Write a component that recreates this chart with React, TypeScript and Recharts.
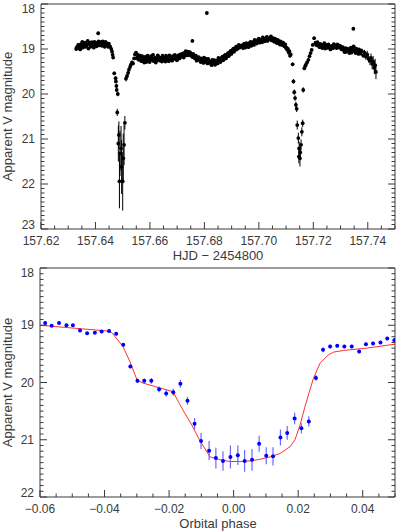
import React from 'react';
import { ComposedChart, Scatter, Line, XAxis, YAxis, ErrorBar } from 'recharts';

// ---- top panel: light curve, [HJD - 2454800, V mag] ----
const preEclipse1 = [
  [157.6329, 19.0], [157.6334, 18.98], [157.6339, 18.94], [157.6344, 19.01], [157.6349, 18.93],
  [157.6354, 18.97], [157.6359, 18.88], [157.6364, 18.95], [157.6369, 18.9], [157.6374, 18.99],
  [157.6379, 18.86], [157.6384, 18.93], [157.6389, 18.91], [157.6394, 18.97], [157.6399, 18.87],
  [157.6404, 18.94], [157.6409, 18.89], [157.6414, 18.92], [157.6419, 18.85], [157.6424, 18.93],
  [157.6429, 18.88], [157.6434, 18.95], [157.6439, 18.86], [157.6444, 18.91], [157.6449, 18.88],
  [157.6454, 18.95], [157.6458, 19.0], [157.6461, 19.06], [157.6463, 19.13], [157.6465, 19.19],
];
const preEclipse1b = [
  [157.63315, 18.96], [157.63365, 18.91], [157.63415, 18.97], [157.63465, 18.89], [157.63515, 18.84],
  [157.63565, 18.91], [157.63615, 18.86], [157.63665, 18.93], [157.63715, 18.82], [157.63765, 18.89],
  [157.63815, 18.95], [157.63865, 18.85], [157.63915, 18.9], [157.63965, 18.84], [157.64015, 18.92],
  [157.64065, 18.86], [157.64115, 18.83], [157.64165, 18.9], [157.64215, 18.87], [157.64265, 18.83],
  [157.64315, 18.9], [157.64365, 18.84], [157.64415, 18.92], [157.64465, 18.95], [157.64515, 18.93],
];

// [t, mag, err]
const eclipse1 = [
  [157.6469, 19.54, 0.04], [157.6474, 19.65, 0.04], [157.6475, 19.72, 0.04], [157.6477, 19.82, 0.05],
  [157.6478, 19.91, 0.05], [157.6482, 20.0, 0.05], [157.648, 20.41, 0.08], [157.6486, 20.91, 0.3],
  [157.6484, 21.1, 0.4], [157.649, 21.32, 0.5], [157.6494, 21.21, 0.5], [157.6496, 21.62, 0.6],
  [157.6488, 21.94, 0.6], [157.65, 21.94, 0.65], [157.6502, 21.43, 0.55], [157.6505, 21.13, 0.45],
  [157.6508, 20.64, 0.15], [157.6512, 19.66, 0.06], [157.6516, 19.6, 0.05], [157.652, 19.53, 0.05],
  [157.6523, 19.46, 0.04], [157.6527, 19.4, 0.04], [157.653, 19.35, 0.04], [157.6534, 19.3, 0.04],
  [157.6538, 19.32, 0.04], [157.6542, 19.21, 0.03], [157.6545, 19.12, 0.03],
];

const plateauMid = [
  [157.6549, 19.08], [157.6554, 19.18], [157.6559, 19.24], [157.6564, 19.15], [157.6569, 19.27],
  [157.6574, 19.2], [157.6579, 19.3], [157.6584, 19.17], [157.6589, 19.25], [157.6594, 19.21],
  [157.6599, 19.29], [157.6604, 19.16], [157.6609, 19.23], [157.6614, 19.27], [157.6619, 19.19],
  [157.6624, 19.26], [157.6629, 19.14], [157.6634, 19.24], [157.6639, 19.2], [157.6644, 19.28],
  [157.6649, 19.18], [157.6654, 19.25], [157.6659, 19.15], [157.6664, 19.22], [157.6669, 19.27],
  [157.6674, 19.19], [157.6679, 19.24], [157.6684, 19.16], [157.6689, 19.22], [157.6694, 19.18],
  [157.6699, 19.25], [157.6704, 19.14], [157.6709, 19.21], [157.6714, 19.17], [157.6719, 19.11],
  [157.6724, 19.19], [157.6729, 19.08], [157.6734, 19.14], [157.6739, 19.06], [157.6744, 19.12],
  [157.6749, 19.09], [157.6754, 19.16], [157.6759, 19.11], [157.6764, 19.2], [157.6769, 19.15],
  [157.6774, 19.23], [157.6779, 19.18], [157.6784, 19.26], [157.6789, 19.21], [157.6794, 19.28],
  [157.6799, 19.19], [157.6804, 19.25], [157.6809, 19.3], [157.6814, 19.22], [157.6819, 19.28],
  [157.6824, 19.33], [157.6829, 19.24], [157.6834, 19.31], [157.6839, 19.35], [157.6844, 19.26],
  [157.6849, 19.32], [157.6854, 19.23], [157.6859, 19.29], [157.6864, 19.19], [157.6869, 19.25],
  [157.6874, 19.15], [157.6879, 19.21], [157.6884, 19.12], [157.6889, 19.16], [157.6894, 19.07],
  [157.6899, 19.11], [157.6904, 19.02], [157.6909, 19.06], [157.6914, 18.98], [157.6919, 19.01],
  [157.6924, 18.93], [157.6929, 18.97],
];
const plateauMidB = [
  [157.65515, 19.21], [157.65565, 19.13], [157.65615, 19.19], [157.65665, 19.23], [157.65715, 19.16],
  [157.65765, 19.24], [157.65815, 19.22], [157.65865, 19.29], [157.65915, 19.15], [157.65965, 19.19],
  [157.66015, 19.25], [157.66065, 19.2], [157.66115, 19.13], [157.66165, 19.22], [157.66215, 19.3],
  [157.66265, 19.21], [157.66315, 19.18], [157.66365, 19.26], [157.66415, 19.23], [157.66465, 19.15],
  [157.66515, 19.2], [157.66565, 19.28], [157.66615, 19.19], [157.66665, 19.24], [157.66715, 19.14],
  [157.66765, 19.21], [157.66815, 19.26], [157.66865, 19.2], [157.66915, 19.13], [157.66965, 19.19],
  [157.67015, 19.23], [157.67065, 19.18], [157.67115, 19.12], [157.67165, 19.16], [157.67215, 19.1],
  [157.67265, 19.15], [157.67315, 19.05], [157.67365, 19.11], [157.67415, 19.14], [157.67465, 19.07],
  [157.67515, 19.13], [157.67565, 19.18], [157.67615, 19.14], [157.67665, 19.21], [157.67715, 19.26],
  [157.67765, 19.2], [157.67815, 19.23], [157.67865, 19.29], [157.67915, 19.24], [157.67965, 19.31],
  [157.68015, 19.27], [157.68065, 19.22], [157.68115, 19.32], [157.68165, 19.26], [157.68215, 19.29],
  [157.68265, 19.36], [157.68315, 19.28], [157.68365, 19.25], [157.68415, 19.33], [157.68465, 19.28],
  [157.68515, 19.2], [157.68565, 19.26], [157.68615, 19.22], [157.68665, 19.17], [157.68715, 19.23],
  [157.68765, 19.13], [157.68815, 19.18], [157.68865, 19.09], [157.68915, 19.13], [157.68965, 19.04],
  [157.69015, 19.08], [157.69065, 18.99], [157.69115, 19.03], [157.69165, 18.95], [157.69215, 18.99],
  [157.69265, 18.91],
];

const plateauHigh = [
  [157.6937, 18.92], [157.6942, 18.98], [157.6947, 18.88], [157.6952, 18.95], [157.6957, 18.9],
  [157.6962, 18.96], [157.6967, 18.86], [157.6972, 18.93], [157.6977, 18.85], [157.6982, 18.91],
  [157.6987, 18.82], [157.6992, 18.88], [157.6997, 18.8], [157.7002, 18.86], [157.7007, 18.79],
  [157.7012, 18.85], [157.7017, 18.77], [157.7022, 18.83], [157.7027, 18.76], [157.7032, 18.82],
  [157.7037, 18.78], [157.7042, 18.74], [157.7047, 18.81], [157.7052, 18.76], [157.7057, 18.84],
  [157.7062, 18.79], [157.7067, 18.87], [157.7072, 18.82], [157.7077, 18.9], [157.7082, 18.85],
  [157.7087, 18.88], [157.7092, 18.93], [157.7097, 18.9], [157.7102, 18.97], [157.7107, 19.0],
  [157.7112, 19.05], [157.7117, 19.12],
];
const plateauHighB = [
  [157.69395, 18.95], [157.69445, 18.9], [157.69495, 18.97], [157.69545, 18.87], [157.69595, 18.92],
  [157.69645, 18.89], [157.69695, 18.84], [157.69745, 18.9], [157.69795, 18.86], [157.69845, 18.8],
  [157.69895, 18.85], [157.69945, 18.83], [157.69995, 18.77], [157.70045, 18.82], [157.70095, 18.8],
  [157.70145, 18.74], [157.70195, 18.8], [157.70245, 18.78], [157.70295, 18.73], [157.70345, 18.79],
  [157.70395, 18.77], [157.70445, 18.72], [157.70495, 18.79], [157.70545, 18.82], [157.70595, 18.77],
  [157.70645, 18.84], [157.70695, 18.8], [157.70745, 18.87], [157.70795, 18.83], [157.70845, 18.91],
  [157.70895, 18.86], [157.70945, 18.94], [157.70995, 18.98], [157.71045, 19.02], [157.71095, 19.08],
  [157.71145, 19.15],
];

const eclipse2 = [
  [157.7124, 19.34, 0.04], [157.7127, 19.72, 0.05], [157.713, 19.96, 0.06], [157.7133, 20.09, 0.06],
  [157.7136, 20.24, 0.07], [157.7139, 20.33, 0.07], [157.7141, 20.69, 0.1], [157.7145, 20.98, 0.12],
  [157.7147, 21.39, 0.15], [157.7148, 21.21, 0.15], [157.7151, 21.43, 0.18], [157.7152, 21.3, 0.15],
  [157.7155, 21.13, 0.12], [157.7158, 20.84, 0.1], [157.7161, 20.65, 0.08], [157.7163, 19.91, 0.06],
  [157.7167, 19.43, 0.04], [157.717, 19.38, 0.04], [157.7173, 19.35, 0.04], [157.7177, 19.3, 0.04],
  [157.7182, 19.24, 0.03], [157.7186, 19.16, 0.03], [157.719, 19.09, 0.03], [157.7194, 19.02, 0.03],
  [157.7198, 18.91, 0.03], [157.7203, 18.76, 0.03],
];

const plateauLate = [
  [157.7208, 18.86], [157.7213, 18.92], [157.7218, 18.88], [157.7223, 18.96], [157.7228, 18.9],
  [157.7233, 18.98], [157.7238, 18.93], [157.7243, 18.99], [157.7248, 18.91], [157.7253, 18.97],
  [157.7258, 18.94], [157.7263, 19.01], [157.7268, 18.93], [157.7273, 18.98], [157.7278, 18.92],
  [157.7283, 18.96], [157.7288, 18.9], [157.7293, 18.95], [157.7298, 18.93], [157.7303, 19.0],
  [157.7308, 18.96], [157.7313, 19.04], [157.7318, 18.98], [157.7323, 19.06], [157.7328, 19.02],
  [157.7333, 19.09], [157.7338, 18.97], [157.7343, 19.05], [157.7348, 18.94], [157.7353, 19.02],
  [157.7358, 18.99], [157.7363, 19.07], [157.7368, 19.01], [157.7373, 19.1],
];
const plateauLateB = [
  [157.72105, 18.9], [157.72155, 18.85], [157.72205, 18.93], [157.72255, 18.89], [157.72305, 18.95],
  [157.72355, 18.91], [157.72405, 18.87], [157.72455, 18.94], [157.72505, 18.97], [157.72555, 18.9],
  [157.72605, 18.96], [157.72655, 18.99], [157.72705, 18.94], [157.72755, 18.89], [157.72805, 18.95],
  [157.72855, 18.98], [157.72905, 18.91], [157.72955, 18.97], [157.73005, 18.94], [157.73055, 19.01],
  [157.73105, 18.99], [157.73155, 19.07], [157.73205, 19.03], [157.73255, 18.99], [157.73305, 19.06],
  [157.73355, 19.02], [157.73405, 19.08], [157.73455, 18.98], [157.73505, 19.04], [157.73555, 19.09],
  [157.73605, 19.03], [157.73655, 19.11], [157.73705, 19.06],
];

const tail = [
  [157.7378, 19.04, 0.05], [157.7383, 19.14, 0.06], [157.7388, 19.08, 0.06], [157.7393, 19.17, 0.07],
  [157.7398, 19.12, 0.08], [157.7403, 19.22, 0.08], [157.7408, 19.26, 0.1], [157.7412, 19.2, 0.1],
  [157.7416, 19.33, 0.12], [157.742, 19.28, 0.12], [157.7424, 19.42, 0.14], [157.7427, 19.36, 0.14],
  [157.743, 19.51, 0.16],
];

const outliers = [[157.641, 18.65], [157.6756, 18.82], [157.6809, 18.2], [157.7347, 18.55]];

// ---- bottom panel: folded eclipse [phase, mag, err] ----
const phasePts = [
  [-0.0584, 18.96, 0.02], [-0.0564, 19.01, 0.02], [-0.0541, 18.96, 0.02], [-0.0518, 19.0, 0.02],
  [-0.0498, 19.0, 0.02], [-0.0476, 19.09, 0.02], [-0.0454, 19.14, 0.02], [-0.043, 19.13, 0.02],
  [-0.0409, 19.11, 0.02], [-0.0386, 19.1, 0.02], [-0.0364, 19.15, 0.03], [-0.0342, 19.34, 0.03],
  [-0.032, 19.72, 0.03], [-0.0298, 19.97, 0.04], [-0.0277, 19.97, 0.04], [-0.0255, 19.97, 0.05],
  [-0.0231, 20.12, 0.05], [-0.0209, 20.19, 0.06], [-0.0187, 20.17, 0.06], [-0.0165, 20.02, 0.07],
  [-0.0143, 20.32, 0.07], [-0.0121, 20.72, 0.1], [-0.0101, 21.02, 0.14], [-0.0076, 21.19, 0.17],
  [-0.0055, 21.32, 0.18], [-0.0033, 21.37, 0.17], [-0.001, 21.3, 0.2], [0.0013, 21.27, 0.17],
  [0.0034, 21.37, 0.19], [0.0057, 21.35, 0.19], [0.0079, 21.07, 0.14], [0.0101, 21.28, 0.15],
  [0.0122, 21.29, 0.16], [0.0145, 20.96, 0.14], [0.0166, 20.88, 0.12], [0.0189, 20.63, 0.1],
  [0.021, 20.8, 0.09], [0.0233, 20.68, 0.09], [0.0255, 19.92, 0.05], [0.0277, 19.43, 0.04],
  [0.0299, 19.37, 0.03], [0.0321, 19.36, 0.03], [0.0343, 19.37, 0.03], [0.0366, 19.37, 0.03],
  [0.0389, 19.46, 0.03], [0.041, 19.33, 0.03], [0.0432, 19.32, 0.03], [0.0455, 19.3, 0.03],
  [0.0476, 19.23, 0.03], [0.0498, 19.26, 0.03],
];

// model curve [phase, mag]
const modelCurve = [
  [-0.06, 19.0], [-0.0392, 19.1], [-0.0377, 19.13], [-0.0343, 19.37], [-0.0321, 19.64],
  [-0.0299, 19.96], [-0.0281, 20.01], [-0.0188, 20.16], [-0.0166, 20.39], [-0.0151, 20.54],
  [-0.013, 20.74], [-0.0106, 21.0], [-0.0073, 21.3], [-0.0042, 21.35], [-0.0011, 21.38],
  [0.002, 21.38], [0.0051, 21.37], [0.0082, 21.34], [0.0113, 21.3], [0.0144, 21.24],
  [0.0175, 21.12], [0.019, 21.0], [0.0206, 20.74], [0.0221, 20.42], [0.0247, 19.93],
  [0.0268, 19.66], [0.0293, 19.52], [0.0309, 19.47], [0.034, 19.44], [0.0412, 19.4], [0.05, 19.33],
];

// axis ticks
const topXMajor = [157.62, 157.64, 157.66, 157.68, 157.7, 157.72, 157.74];
const topYMajor = [18, 19, 20, 21, 22, 23];
const botXMajor = [-0.06, -0.04, -0.02, 0, 0.02, 0.04];
const botYMajor = [18, 19, 20, 21, 22];

const steps = (a: number, b: number, s: number) => {
  const out: number[] = [];
  for (let i = 0; a + i * s <= b + 1e-9; i++) out.push(+(a + i * s).toFixed(4));
  return out;
};

const INK = '#3a3a3a';
const FONT = "'Liberation Sans', Arial, sans-serif";
const has = (list: number[], v: number) => list.some((m) => Math.abs(m - v) < 1e-7);

const fmtMinus = (v: number) => (v < 0 ? '\u2212' + Math.abs(v).toFixed(2) : v.toFixed(2));

function tick(side: string, majors: number[], domain: number[], fmt?: (v: number) => string) {
  return (props: any) => {
    const { x, y, payload } = props;
    const v = payload.value;
    const major = has(majors, v);
    const len = major ? 7 : 3.5;
    let ln = null;
    let lab = null;
    if (side === 'left') {
      ln = <line x1={x} x2={x + len} y1={y} y2={y} stroke={INK} />;
      if (fmt && major) {
        const shift = Math.abs(v - domain[0]) < 1e-7 ? 4.5 : Math.abs(v - domain[1]) < 1e-7 ? -4 : 0;
        lab = (
          <text x={x - 6} y={y + shift + 4} textAnchor="end" fontSize={12} fontFamily={FONT} fill={INK}>
            {fmt(v)}
          </text>
        );
      }
    } else if (side === 'right') {
      ln = <line x1={x} x2={x - len} y1={y} y2={y} stroke={INK} />;
    } else if (side === 'top') {
      ln = <line x1={x} x2={x} y1={y} y2={y + len} stroke={INK} />;
    } else {
      ln = <line x1={x} x2={x} y1={y} y2={y - len} stroke={INK} />;
      if (fmt && major) {
        lab = (
          <text x={x} y={y + 15.5} textAnchor="middle" fontSize={12} fontFamily={FONT} fill={INK}>
            {fmt(v)}
          </text>
        );
      }
    }
    return (
      <g>
        {ln}
        {lab}
      </g>
    );
  };
}

const toPts = (arr: number[][], err: number) => arr.map(([x, y, e]) => ({ x, y, err: e ?? err }));

const topData = [
  ...toPts(preEclipse1, 0.03),
  ...toPts(preEclipse1b, 0.03),
  ...toPts(eclipse1, 0.03),
  ...toPts(plateauMid, 0.03),
  ...toPts(plateauMidB, 0.03),
  ...toPts(plateauHigh, 0.03),
  ...toPts(plateauHighB, 0.03),
  ...toPts(eclipse2, 0.03),
  ...toPts(plateauLate, 0.03),
  ...toPts(plateauLateB, 0.03),
  ...toPts(tail, 0.05),
  ...toPts(outliers, 0.03),
];
const phaseData = toPts(phasePts, 0.02);
const modelData = modelCurve.map(([x, y]) => ({ x, y }));

const blackDot = (p: any) => <circle cx={p.cx} cy={p.cy} r={1.9} fill="#000" />;
const blueDot = (p: any) => <circle cx={p.cx} cy={p.cy} r={2} fill="#0000ff" />;

const axisProps = { axisLine: { stroke: INK }, tickLine: false, tickSize: 0, tickMargin: 0, interval: 0 as const, allowDataOverflow: true };

export default function App() {
  const topXDomain = [157.62, 157.75];
  const topYDomain = [18, 23];
  const topXTicks = steps(157.62, 157.75, 0.005);
  const topYTicks = steps(18, 23, 0.1);
  const botXDomain = [-0.06, 0.05];
  const botYDomain = [18, 22];
  const botXTicks = steps(-0.06, 0.05, 0.005);
  const botYTicks = steps(18, 22, 0.1);
  const txt = { fontFamily: FONT, fontSize: 13, fill: INK } as const;

  return (
    <div style={{ position: 'absolute', left: 0, top: 0, width: 399, height: 532, background: '#fff' }}>
      <div style={{ position: 'absolute', left: 0, top: 0 }}>
        <ComposedChart width={399} height={265} margin={{ top: 0, right: 0, bottom: 0, left: 0 }}>
          <XAxis xAxisId="b" dataKey="x" type="number" orientation="bottom" height={36} domain={topXDomain} ticks={topXTicks}
            tick={tick('bottom', topXMajor, topXDomain, (v) => v.toFixed(2))} {...axisProps} />
          <XAxis xAxisId="t" type="number" orientation="top" height={4} domain={topXDomain} ticks={topXTicks}
            tick={tick('top', topXMajor, topXDomain)} {...axisProps} />
          <YAxis yAxisId="l" dataKey="y" type="number" reversed width={41} domain={topYDomain} ticks={topYTicks}
            tick={tick('left', topYMajor, topYDomain, (v) => String(v))} {...axisProps} />
          <YAxis yAxisId="r" type="number" orientation="right" reversed width={4} domain={topYDomain} ticks={topYTicks}
            tick={tick('right', topYMajor, topYDomain)} {...axisProps} />
          <Scatter xAxisId="b" yAxisId="l" data={topData} dataKey="y" shape={blackDot} isAnimationActive={false}>
            <ErrorBar dataKey="err" direction="y" width={0} stroke="#000" strokeWidth={1} />
          </Scatter>
        </ComposedChart>
      </div>
      <div style={{ position: 'absolute', left: 0, top: 264 }}>
        <ComposedChart width={399} height={268} margin={{ top: 0, right: 0, bottom: 0, left: 0 }}>
          <XAxis xAxisId="b" dataKey="x" type="number" orientation="bottom" height={35} domain={botXDomain} ticks={botXTicks}
            tick={tick('bottom', botXMajor, botXDomain, fmtMinus)} {...axisProps} />
          <XAxis xAxisId="t" type="number" orientation="top" height={4} domain={botXDomain} ticks={botXTicks}
            tick={tick('top', botXMajor, botXDomain)} {...axisProps} />
          <YAxis yAxisId="l" dataKey="y" type="number" reversed width={40} domain={botYDomain} ticks={botYTicks}
            tick={tick('left', botYMajor, botYDomain, (v) => String(v))} {...axisProps} />
          <YAxis yAxisId="r" type="number" orientation="right" reversed width={4} domain={botYDomain} ticks={botYTicks}
            tick={tick('right', botYMajor, botYDomain)} {...axisProps} />
          <Line xAxisId="b" yAxisId="l" data={modelData} dataKey="y" type="linear" dot={false} stroke="#ff3030"
            strokeWidth={1} isAnimationActive={false} />
          <Scatter xAxisId="b" yAxisId="l" data={phaseData} dataKey="y" shape={blueDot} isAnimationActive={false}>
            <ErrorBar dataKey="err" direction="y" width={0} stroke="#6a6aff" strokeWidth={1.2} />
          </Scatter>
        </ComposedChart>
      </div>
      <svg width={399} height={532} style={{ position: 'absolute', left: 0, top: 0, pointerEvents: 'none' }}>
        <text x={218} y={259.5} textAnchor="middle" {...txt}>HJD − 2454800</text>
        <text x={218} y={527.5} textAnchor="middle" {...txt}>Orbital phase</text>
        <text x={12} y={116.5} textAnchor="middle" transform="rotate(-90 12 116.5)" {...txt}>Apparent V magnitude</text>
        <text x={12} y={382.5} textAnchor="middle" transform="rotate(-90 12 382.5)" {...txt}>Apparent V magnitude</text>
      </svg>
    </div>
  );
}
